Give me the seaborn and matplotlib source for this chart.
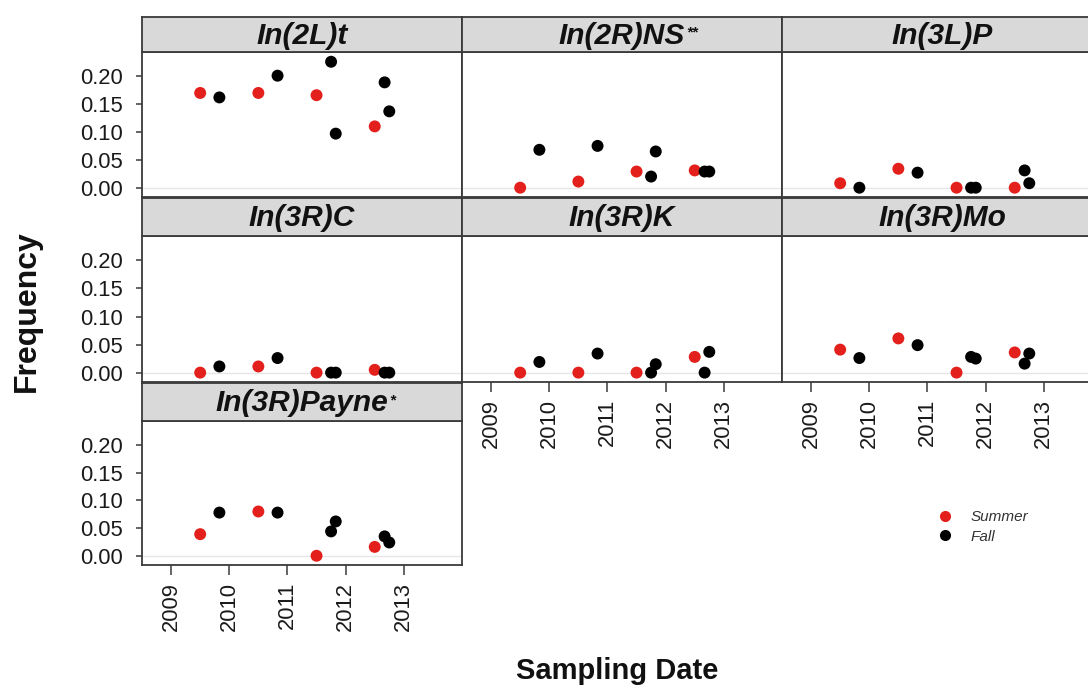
import matplotlib
matplotlib.use("Agg")
import matplotlib.pyplot as plt
from matplotlib.lines import Line2D
import seaborn as sns
import pandas as pd

# ---------------- data ----------------
panels = ["In(2L)t", "In(2R)NS", "In(3L)P", "In(3R)C", "In(3R)K", "In(3R)Mo", "In(3R)Payne"]
superscripts = ["", "**", "", "", "", "", "*"]

summer_dates = [2009.5, 2010.5, 2011.5, 2012.5]
fall_dates = [2009.83, 2010.83, 2011.75, 2011.83, 2012.67, 2012.75]

summer_values = {
    "In(2L)t":     [0.170, 0.170, 0.166, 0.110],
    "In(2R)NS":    [0.000, 0.011, 0.029, 0.031],
    "In(3L)P":     [0.008, 0.034, 0.000, 0.000],
    "In(3R)C":     [0.000, 0.011, 0.000, 0.005],
    "In(3R)K":     [0.000, 0.000, 0.000, 0.028],
    "In(3R)Mo":    [0.041, 0.061, 0.000, 0.036],
    "In(3R)Payne": [0.039, 0.080, 0.000, 0.016],
}
fall_values = {
    "In(2L)t":     [0.162, 0.201, 0.226, 0.097, 0.189, 0.137],
    "In(2R)NS":    [0.068, 0.075, 0.020, 0.065, 0.029, 0.029],
    "In(3L)P":     [0.000, 0.027, 0.000, 0.000, 0.031, 0.008],
    "In(3R)C":     [0.011, 0.026, 0.000, 0.000, 0.000, 0.000],
    "In(3R)K":     [0.019, 0.034, 0.000, 0.015, 0.000, 0.037],
    "In(3R)Mo":    [0.026, 0.049, 0.028, 0.025, 0.016, 0.034],
    "In(3R)Payne": [0.078, 0.078, 0.044, 0.062, 0.035, 0.024],
}

seasons = ["Summer", "Fall"]
season_colors = {"Summer": "#E3201B", "Fall": "#000000"}
x_ticks = [2009, 2010, 2011, 2012, 2013]
y_ticks = [0.00, 0.05, 0.10, 0.15, 0.20]

rows = []
for p in panels:
    for d, v in zip(summer_dates, summer_values[p]):
        rows.append({"panel": p, "date": d, "freq": v, "season": "Summer"})
    for d, v in zip(fall_dates, fall_values[p]):
        rows.append({"panel": p, "date": d, "freq": v, "season": "Fall"})
df = pd.DataFrame(rows)

# ---------------- style ----------------
sns.set_theme(style="white")
plt.rcParams["font.family"] = ["Liberation Sans", "DejaVu Sans"]

W, H = 1088, 686
fig = plt.figure(figsize=(W / 100, H / 100), dpi=100)

def px_axes(x0, y0, x1, y1):
    return fig.add_axes([x0 / W, 1 - y1 / H, (x1 - x0) / W, (y1 - y0) / H])

col_x = [(142, 462), (462, 782), (782, 1102)]
row_y = [((17, 52), (52, 197)), ((198, 236), (236, 382)), ((383, 421), (421, 565))]

edge = "#3a3a3a"
tick_col = "#1a1a1a"

for i, p in enumerate(panels):
    r, c = divmod(i, 3)
    (sx0, sx1) = col_x[c]
    (st, sb), (pt, pb) = row_y[r]

    ax = px_axes(sx0, pt, sx1, pb)
    ax.axhline(0, color="#e6e6e6", lw=1, zorder=0)
    sub = df[df.panel == p]
    sns.scatterplot(data=sub, x="date", y="freq", hue="season", hue_order=seasons,
                    palette=season_colors, s=74, linewidth=0, ax=ax, legend=False,
                    zorder=3)
    ax.set_xlim(2008.5, 2014.0)
    ax.set_ylim(-0.0167, 0.2435)
    ax.set_xlabel("")
    ax.set_ylabel("")
    for sp in ax.spines.values():
        sp.set_color(edge)
        sp.set_linewidth(1.3)
    ax.set_xticks(x_ticks)
    ax.set_yticks(y_ticks)
    show_x = (r == 2) or (r == 1 and c > 0)
    show_y = (c == 0)
    ax.tick_params(axis="x", bottom=show_x, labelbottom=show_x, length=7, width=1.1,
                   color=edge, labelsize=15.8, labelcolor=tick_col, pad=5,
                   labelrotation=90)
    ax.tick_params(axis="y", left=show_y, labelleft=show_y, length=4.5, width=1.1,
                   color=edge, labelsize=15.8, labelcolor=tick_col, pad=9)
    if show_y:
        ax.set_yticklabels([f"{v:.2f}" for v in y_ticks])
    ax.grid(False)

    # strip
    sax = px_axes(sx0, st, sx1, sb)
    sax.set_facecolor("#d9d9d9")
    sax.set_xticks([])
    sax.set_yticks([])
    for sp in sax.spines.values():
        sp.set_color(edge)
        sp.set_linewidth(1.3)
    t = sax.text(0.5, 0.47, p, transform=sax.transAxes, ha="center", va="center",
                 fontsize=21.5, fontweight="bold", fontstyle="italic", color="#111111")
    if superscripts[i]:
        sax.annotate(superscripts[i], xy=(1, 1), xycoords=t, xytext=(1, -3),
                     textcoords="offset points", ha="left", va="top",
                     fontsize=11, fontweight="bold", fontstyle="italic",
                     color="#111111")

# axis titles
fig.text(27 / W, 1 - 311 / H, "Frequency", rotation=90, ha="center", va="center",
         fontsize=23, fontweight="bold", color="#111111")
fig.text(617 / W, 1 - 679 / H, "Sampling Date", ha="center", va="baseline",
         fontsize=21, fontweight="bold", color="#111111")

# legend
handles = [Line2D([], [], marker="o", ls="", markersize=8, markeredgewidth=0,
                  color=season_colors[s]) for s in seasons]
leg = fig.legend(handles, seasons, loc="upper left",
                 bbox_to_anchor=(937 / W, 1 - 510 / H), frameon=False,
                 borderpad=0, borderaxespad=0, handlelength=1.0, handletextpad=1.2,
                 labelspacing=0.38, prop={"size": 11, "style": "italic"})
for tx in leg.get_texts():
    tx.set_color("#333333")

fig.savefig("out.png", dpi=100)
